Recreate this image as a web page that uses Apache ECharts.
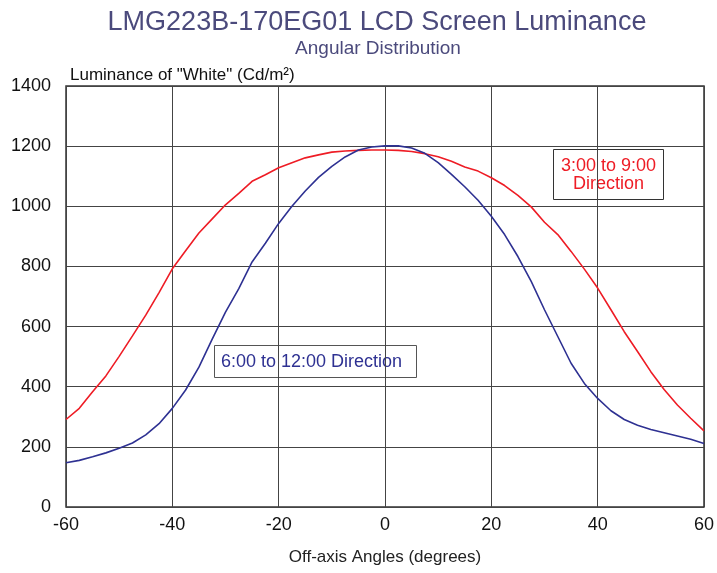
<!DOCTYPE html>
<html lang="en">
<head>
    <meta charset="utf-8">
    <script src="https://cdn.jsdelivr.net/npm/echarts@6/dist/echarts.min.js"></script>
    <style>
        html, body { margin: 0; padding: 0; background: #fff; }
        #chart { width: 717px; height: 573px; }
    </style>
</head>
<body>
<div id="chart"></div>
<script type="text/javascript">
    // angles every 2.5 degrees
    var angles = [-60, -57.5, -55, -52.5, -50, -47.5, -45, -42.5, -40, -37.5, -35, -32.5, -30, -27.5, -25, -22.5, -20, -17.5, -15, -12.5, -10, -7.5, -5, -2.5,
        0, 2.5, 5, 7.5, 10, 12.5, 15, 17.5, 20, 22.5, 25, 27.5, 30, 32.5, 35, 37.5, 40, 42.5, 45, 47.5, 50, 52.5, 55, 57.5, 60];
    // 3:00 to 9:00 direction (red)
    var horizontal = [291, 328, 383, 436, 501, 569, 638, 713, 792, 852, 911, 958, 1005, 1043, 1083, 1105, 1128, 1145, 1161, 1171, 1180, 1184, 1186, 1187,
        1187, 1186, 1182, 1175, 1165, 1150, 1131, 1117, 1095, 1069, 1036, 998, 947, 906, 850, 791, 728, 656, 583, 517, 450, 391, 339, 295, 253];
    // 6:00 to 12:00 direction (blue)
    var vertical = [147, 155, 167, 180, 195, 213, 240, 277, 328, 389, 465, 558, 648, 726, 815, 877, 943, 1000, 1051, 1096, 1133, 1164, 1187, 1197,
        1201, 1201, 1194, 1176, 1145, 1106, 1065, 1020, 967, 906, 833, 750, 656, 567, 478, 411, 361, 320, 291, 272, 258, 247, 236, 225, 211];

    function pairs(xs, ys) {
        var out = [];
        for (var i = 0; i < xs.length; i++) out.push([xs[i], ys[i]]);
        return out;
    }

    var font = 'Liberation Sans, Arial, sans-serif';
    var chart = echarts.init(document.getElementById('chart'));
    var option = {
        animation: false,
        backgroundColor: '#fff',
        textStyle: { fontFamily: font },
        title: [{
            text: 'LMG223B-170EG01 LCD Screen Luminance',
            left: 372, top: 4, textAlign: 'center',
            textStyle: { fontFamily: font, fontSize: 27, fontWeight: 'normal', color: '#4b4a7c' }
        }, {
            text: 'Angular Distribution',
            left: 373, top: 34, textAlign: 'center',
            textStyle: { fontFamily: font, fontSize: 19, fontWeight: 'normal', color: '#4b4a7c' }
        }, {
            text: 'Luminance of "White" (Cd/m²)',
            left: 65, top: 62,
            textStyle: { fontFamily: font, fontSize: 17, fontWeight: 'normal', color: '#111' }
        }],
        grid: { left: 66, right: 11, top: 86, bottom: 66, show: true, borderColor: '#333', borderWidth: 1.5 },
        xAxis: {
            type: 'value', min: -60, max: 60, interval: 20,
            name: 'Off-axis Angles (degrees)', nameLocation: 'middle', nameGap: 42,
            nameTextStyle: { fontFamily: font, fontSize: 17, color: '#222' },
            axisLine: { show: false },
            axisTick: { show: false },
            axisLabel: { fontFamily: font, fontSize: 18, color: '#111', margin: 9 },
            splitLine: { lineStyle: { color: '#444', width: 1 } }
        },
        yAxis: {
            type: 'value', min: 0, max: 1400, interval: 200,
            axisLine: { show: false },
            axisTick: { show: false },
            axisLabel: {
                fontFamily: font, fontSize: 18, color: '#111', margin: 15,
                formatter: function (v) { return String(v); }
            },
            splitLine: { lineStyle: { color: '#444', width: 1 } }
        },
        series: [{
            name: '3:00 to 9:00 Direction',
            type: 'line',
            showSymbol: false,
            data: pairs(angles, horizontal),
            lineStyle: { color: '#ee1c25', width: 1.6 }
        }, {
            name: '6:00 to 12:00 Direction',
            type: 'line',
            showSymbol: false,
            data: pairs(angles, vertical),
            lineStyle: { color: '#2e3192', width: 1.6 }
        }],
        graphic: [{
            type: 'group', left: 214, top: 345,
            children: [{
                type: 'rect', shape: { x: 0, y: 0, width: 202, height: 32 },
                style: { fill: '#fff', stroke: '#555', lineWidth: 1 }
            }, {
                type: 'text', x: 97, y: 17,
                style: { text: '6:00 to 12:00 Direction', fontFamily: font, fontSize: 18, fill: '#2e3192', align: 'center', verticalAlign: 'middle' }
            }]
        }, {
            type: 'group', left: 553, top: 149,
            children: [{
                type: 'rect', shape: { x: 0, y: 0, width: 110, height: 50 },
                style: { fill: '#fff', stroke: '#333', lineWidth: 1 }
            }, {
                type: 'text', x: 55, y: 26,
                style: { text: '3:00 to 9:00\nDirection', fontFamily: font, fontSize: 18, lineHeight: 18, fill: '#ee1c25', align: 'center', verticalAlign: 'middle' }
            }]
        }]
    };
    chart.setOption(option);
</script>
</body>
</html>
